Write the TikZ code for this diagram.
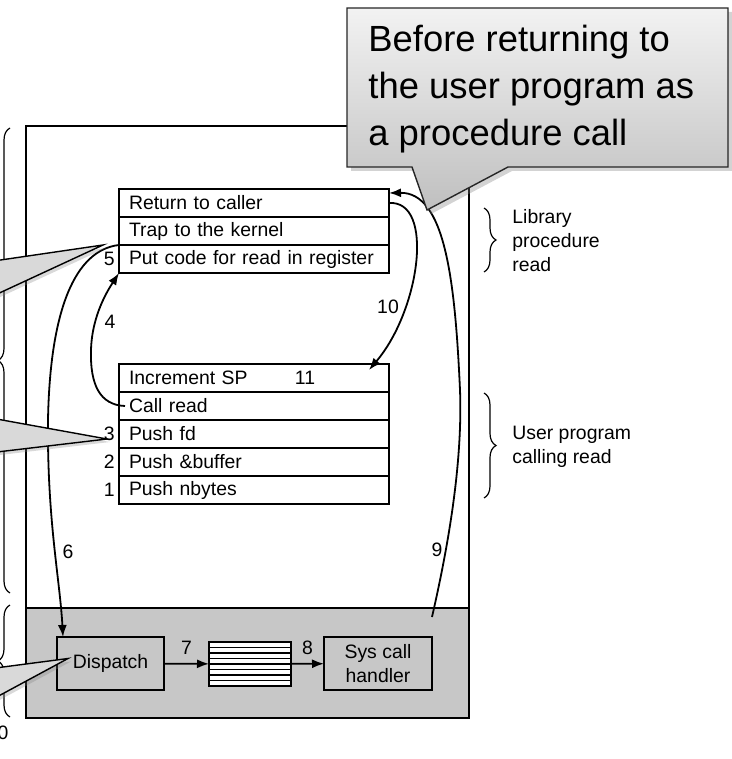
\documentclass[tikz,border=0pt]{standalone}
\usepackage{fontspec}
\setmainfont{Liberation Sans}
\usetikzlibrary{positioning,arrows.meta,decorations.pathreplacing,shadows}

\begin{document}
\begin{tikzpicture}[
    x=0.5pt, y=-0.5pt,
    every node/.style={font=\fontsize{9.7}{12}\selectfont},
    row/.style={
      draw, line width=0.9pt, fill=white, minimum height=14pt,
      text width=125pt, inner xsep=5pt, inner ysep=0pt, outer sep=0pt,
      align=left
    },
    unit/.style={
      draw, line width=0.9pt, minimum height=26.5pt,
      align=center, inner sep=2pt, outer sep=0pt
    },
    num/.style={inner sep=1pt},
    flow/.style={-{Latex[length=6pt,width=4.5pt]}, line width=0.9pt},
    wedge/.style={
      fill=black!15, draw=black, line width=0.7pt,
      drop shadow={shadow xshift=1.5pt, shadow yshift=-1.5pt, opacity=0.3}
    },
    brc/.style={line width=0.6pt, decorate, decoration={brace, amplitude=6pt}},
    ]
  \useasboundingbox (0,0) rectangle (732,759);
  \clip (0,0) rectangle (732,759);

  % user and kernel space
  \draw[line width=0.9pt] (26,126) rectangle (469,718);
  \draw[line width=0.9pt, fill=black!22] (26,608) rectangle (469,718);

  % library procedure read
  \node[row, anchor=north west] (ret) at (119,189) {Return to caller};
  \node[row, below=0pt of ret] (trap) {Trap to the kernel};
  \node[row, below=0pt of trap] (putcode) {Put code for read in register};
  \node[num, left=1pt of putcode] {5};

  % user program calling read
  \node[row, anchor=north west] (inc) at (119,364) {Increment SP};
  \node[row, below=0pt of inc] (callrd) {Call read};
  \node[row, below=0pt of callrd] (pushfd) {Push fd};
  \node[row, below=0pt of pushfd] (pushbuf) {Push \&buffer};
  \node[row, below=0pt of pushbuf] (pushnb) {Push nbytes};
  \node[num, left=1pt of pushfd] {3};
  \node[num, left=1pt of pushbuf] {2};
  \node[num, left=1pt of pushnb] {1};
  \node[num] at (305,378) {11};

  % kernel
  \node[unit, minimum width=53.5pt] (disp) at (110.5,663.5) {Dispatch};
  \node[draw, line width=0.9pt, fill=white, minimum width=41pt,
        minimum height=22pt, inner sep=0pt, outer sep=0pt] (queue) at (250,664) {};
  \foreach \k in {1,...,7}
    \draw[line width=0.7pt] ([yshift=-\k*2.75pt]queue.north west)
      -- ([yshift=-\k*2.75pt]queue.north east);
  \node[unit, minimum width=54pt] (handler) at (378,663.5) {Sys call\\handler};

  \draw[flow] (disp) -- node[num, above, yshift=3pt] {7} (queue);
  \draw[flow] (queue) -- node[num, above, yshift=3pt] {8} (handler);

  % the steps
  \draw[flow] ([xshift=3pt]callrd.west) .. controls (100,405) and (90,385) .. (91,350)
    .. controls (92,315) and (108,290) .. (putcode.south west);
  \node[num] at (110,322) {4};
  \draw[flow] (trap.south west) .. controls (75,250) and (50,310) .. (48,420)
    .. controls (47,520) and (60,580) .. ([xshift=3pt]disp.north west);
  \node[num] at (68,552) {6};
  \coordinate (c9) at (432,617);
  \draw[flow] (c9) .. controls (445,560) and (463,470) .. (460,390)
    .. controls (455,280) and (445,192) .. ([yshift=-2pt]ret.north east);
  \node[num] at (437,550) {9};
  \draw[flow] (ret.east) .. controls (435,200) and (420,310) .. ([xshift=-10pt,yshift=-3pt]inc.north east);
  \node[num] at (388,307) {10};

  % braces
  \draw[brc] (484,208) -- (484,272);
  \node[anchor=west, align=left, inner sep=0pt] (libtxt) at (512,241) {Library\\procedure\\read};
  \draw[brc] (484,393) -- (484,498);
  \node[anchor=west, align=left, inner sep=0pt] (usrtxt) at (512,447) {User program\\calling read};
  \draw[brc] (10,593) -- (10,128);
  \draw[brc] (10,717) -- (10,605);
  \node[num] at (3,733) {0};

  % callouts
  \draw[wedge] (-20,263) -- ([xshift=-8pt]trap.south west) -- (-20,302) -- cycle;
  \draw[wedge] (-20,416) -- ([xshift=-6pt,yshift=-2.5pt]pushfd.west) -- (-20,454) -- cycle;
  \draw[wedge] (-20,670) -- ([xshift=5.5pt,yshift=2.5pt]disp.west) -- (-20,706) -- cycle;
  \draw[top color=black!5, bottom color=black!25, draw=black!85, line width=0.7pt,
        drop shadow={shadow xshift=2pt, shadow yshift=-2pt, opacity=0.35}]
    (347,8) -- (728,8) -- (728,167) -- (508,167)
    -- ([xshift=19pt,yshift=-10.5pt]ret.north east) -- (412,167) -- (347,167) -- cycle;
  \node[anchor=west, align=left, inner sep=0pt, font=\fontsize{18.2}{23.5}\selectfont]
    (note) at (368,89) {Before returning to\\the user program as\\a procedure call};
\end{tikzpicture}
\end{document}
